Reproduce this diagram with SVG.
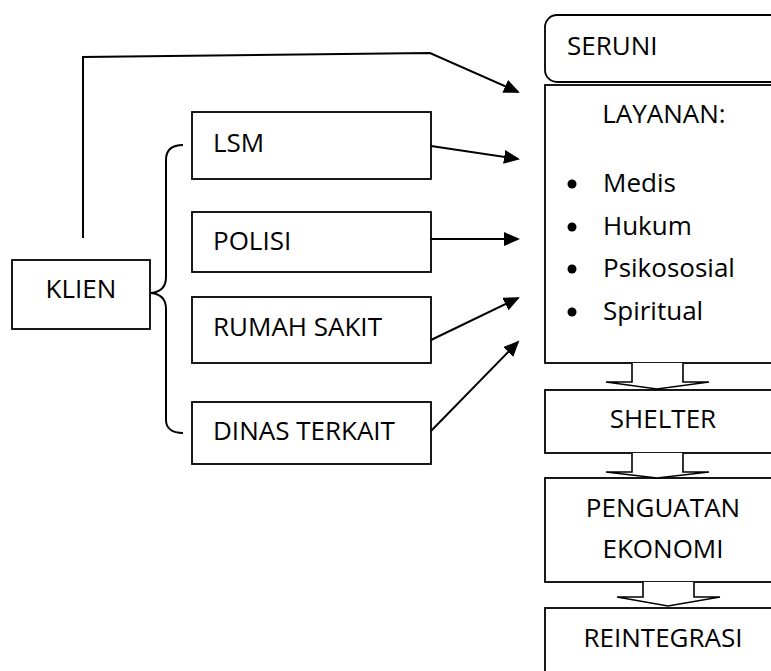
<svg xmlns="http://www.w3.org/2000/svg" width="771" height="671" viewBox="0 0 771 671">
<style>
.box{fill:#fff;stroke:#000;stroke-width:1.8}
.t{font-family:"Open Sans","Liberation Sans",sans-serif;font-size:26px;fill:#000}
.m{text-anchor:middle}
.ln{fill:none;stroke:#000;stroke-width:2}
.blk{fill:#fff;stroke:#000;stroke-width:1.6;stroke-linejoin:miter}
</style>
<defs>
<marker id="ah" markerUnits="userSpaceOnUse" markerWidth="18" markerHeight="14" refX="14" refY="7" orient="auto">
<path d="M0,0 L16,7 L0,14 z" fill="#000"/>
</marker>
</defs>
<rect width="771" height="671" fill="#fff"/>

<g id="klien">
<rect class="box" x="12" y="260" width="138" height="69"/>
<text class="t m" x="81" y="298">KLIEN</text>
</g>
<g id="lsm">
<rect class="box" x="192" y="112" width="239" height="67"/>
<text class="t" x="213" y="152">LSM</text>
</g>
<g id="polisi">
<rect class="box" x="192" y="212" width="239" height="60"/>
<text class="t" x="213" y="250">POLISI</text>
</g>
<g id="rumah-sakit">
<rect class="box" x="192" y="297" width="239" height="66"/>
<text class="t" x="213" y="336">RUMAH SAKIT</text>
</g>
<g id="dinas-terkait">
<rect class="box" x="192" y="402" width="239" height="62"/>
<text class="t" x="213" y="440">DINAS TERKAIT</text>
</g>

<g id="seruni">
<rect class="box" x="545" y="15" width="260" height="67" rx="12" ry="12"/>
<text class="t" x="567" y="55">SERUNI</text>
</g>
<g id="layanan">
<rect class="box" x="545" y="85" width="260" height="278"/>
<text class="t m" x="664" y="123">LAYANAN:</text>
<circle cx="572" cy="184" r="4.5"/>
<text class="t" x="603" y="192">Medis</text>
<circle cx="572" cy="227" r="4.5"/>
<text class="t" x="603" y="235">Hukum</text>
<circle cx="572" cy="269" r="4.5"/>
<text class="t" x="603" y="277">Psikososial</text>
<circle cx="572" cy="312" r="4.5"/>
<text class="t" x="603" y="320">Spiritual</text>
</g>
<g id="shelter">
<rect class="box" x="545" y="390" width="260" height="63"/>
<text class="t m" x="663" y="428">SHELTER</text>
</g>
<g id="penguatan-ekonomi">
<rect class="box" x="545" y="478" width="260" height="104"/>
<text class="t m" x="663" y="517">PENGUATAN</text>
<text class="t m" x="663" y="558">EKONOMI</text>
</g>
<g id="reintegrasi">
<rect class="box" x="545" y="608" width="260" height="100"/>
<text class="t m" x="663" y="647">REINTEGRASI</text>
</g>

<g id="connectors">
<path class="ln" d="M183,145 C172,145 166,150 166,160 L166,277 C166,287 161,292 151,293 C161,294 166,299 166,309 L166,420 C166,428 172,433 183,433"/>
<path class="ln" d="M83,238 L83,57 L430,53 L518,92" marker-end="url(#ah)"/>
<path class="ln" d="M431,146 L518,159" marker-end="url(#ah)"/>
<path class="ln" d="M431,239 L518,239" marker-end="url(#ah)"/>
<path class="ln" d="M431,340 L518,298" marker-end="url(#ah)"/>
<path class="ln" d="M431,431 L518,342" marker-end="url(#ah)"/>
<path class="blk" d="M632,363 L632,382 L606,382 L657,389 L709,382 L683,382 L683,363"/>
<path class="blk" d="M632,453 L632,472 L606,472 L657,478 L709,472 L683,472 L683,453"/>
<path class="blk" d="M643,582 L643,597 L617,597 L668,606 L720,597 L694,597 L694,582"/>
</g>
</svg>
